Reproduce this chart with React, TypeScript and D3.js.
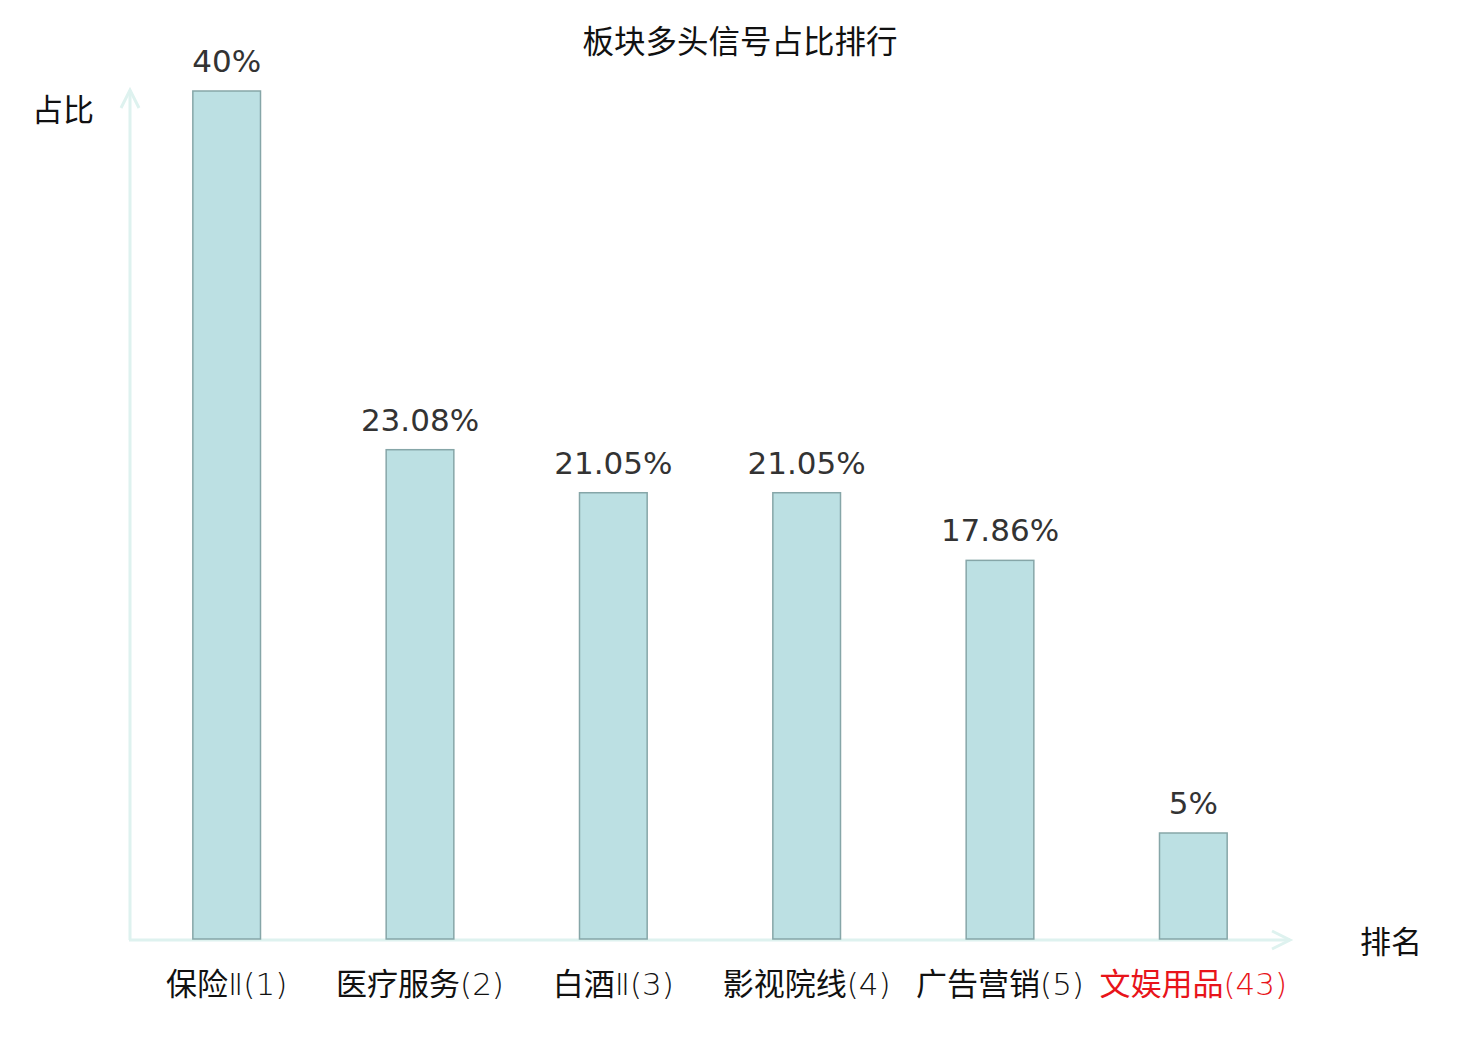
import React, { useEffect, useRef } from "react";
import * as d3 from "d3";

const categories = ["保险Ⅱ(1)", "医疗服务(2)", "白酒Ⅱ(3)", "影视院线(4)", "广告营销(5)", "文娱用品(43)"];
const values = [40, 23.08, 21.05, 21.05, 17.86, 5];
const valueLabels = ["40%", "23.08%", "21.05%", "21.05%", "17.86%", "5%"];
const highlighted = ["文娱用品(43)"];

const cjk = "'Noto Sans CJK SC', sans-serif";
const latin = "'DejaVu Sans', sans-serif";

export default function App() {
  const svgRef = useRef<SVGSVGElement | null>(null);

  useEffect(() => {
    if (!svgRef.current) return;
    const svg = d3.select(svgRef.current);
    svg.selectAll("*").remove();

    const W = 1480;
    const H = 1040;
    const x0 = 130;
    const x1 = 1290;
    const yBase = 939;
    const yTop = 91;

    const x = d3.scaleBand<string>().domain(categories).range([x0, x1]).padding(0);
    const y = d3.scaleLinear().domain([0, 40]).range([yBase, yTop]);
    const barW = x.bandwidth() * 0.35;

    svg.attr("width", W).attr("height", H).attr("viewBox", `0 0 ${W} ${H}`);

    // title
    svg.append("text")
      .attr("x", 740)
      .attr("y", 53)
      .attr("text-anchor", "middle")
      .attr("font-family", cjk)
      .attr("font-size", 31.5)
      .attr("fill", "#111")
      .text("板块多头信号占比排行");

    // axes with arrows
    const axisColor = "#def2ef";
    const axes = svg.append("g").attr("stroke", axisColor).attr("stroke-width", 3).attr("fill", "none");
    axes.append("line").attr("x1", x0).attr("x2", x0).attr("y1", yBase + 1).attr("y2", 90);
    axes.append("path").attr("d", `M${x0 - 9},${108} L${x0},${90} L${x0 + 9},${108}`);
    axes.append("line").attr("x1", x0 - 1).attr("x2", x1).attr("y1", yBase + 1).attr("y2", yBase + 1);
    axes.append("path").attr("d", `M${x1 - 18},${yBase - 8} L${x1},${yBase + 1} L${x1 - 18},${yBase + 10}`);

    svg.append("text")
      .attr("x", 63)
      .attr("y", 121)
      .attr("text-anchor", "middle")
      .attr("font-family", cjk)
      .attr("font-size", 31)
      .attr("fill", "#111")
      .text("占比");

    svg.append("text")
      .attr("x", 1391)
      .attr("y", 953)
      .attr("text-anchor", "middle")
      .attr("font-family", cjk)
      .attr("font-size", 31)
      .attr("fill", "#111")
      .text("排名");

    // bars
    svg.append("g")
      .selectAll("rect")
      .data(categories)
      .join("rect")
      .attr("x", (d) => (x(d) ?? 0) + x.bandwidth() / 2 - barW / 2)
      .attr("y", (d, i) => y(values[i]))
      .attr("width", barW)
      .attr("height", (d, i) => yBase - y(values[i]))
      .attr("fill", "#bce0e3")
      .attr("stroke", "#86a6a8")
      .attr("stroke-width", 1.5);

    // value labels
    svg.append("g")
      .selectAll("text")
      .data(categories)
      .join("text")
      .attr("x", (d) => (x(d) ?? 0) + x.bandwidth() / 2)
      .attr("y", (d, i) => y(values[i]) - 19)
      .attr("text-anchor", "middle")
      .attr("font-family", latin)
      .attr("font-size", 31)
      .attr("fill", "#333")
      .text((d, i) => valueLabels[i]);

    // category labels, the roman numeral and the rank use a lighter latin face
    const cat = svg.append("g")
      .selectAll("text")
      .data(categories)
      .join("text")
      .attr("x", (d) => (x(d) ?? 0) + x.bandwidth() / 2)
      .attr("y", 995)
      .attr("text-anchor", "middle")
      .attr("font-family", cjk)
      .attr("font-size", 31)
      .attr("fill", (d) => (highlighted.includes(d) ? "#e8141a" : "#111"));

    cat.each(function (d) {
      const t = d3.select(this);
      const parts = d.split(/(Ⅱ|\(.*\))/).filter((p) => p.length > 0);
      parts.forEach((p) => {
        const s = t.append("tspan").text(p);
        if (p === "Ⅱ" || p.startsWith("(")) s.attr("font-family", latin).attr("font-weight", 200);
      });
    });
  }, []);

  return (
    <div style={{ width: 1480, height: 1040, margin: -8, background: "#fff" }}>
      <svg ref={svgRef} style={{ display: "block" }} />
    </div>
  );
}
